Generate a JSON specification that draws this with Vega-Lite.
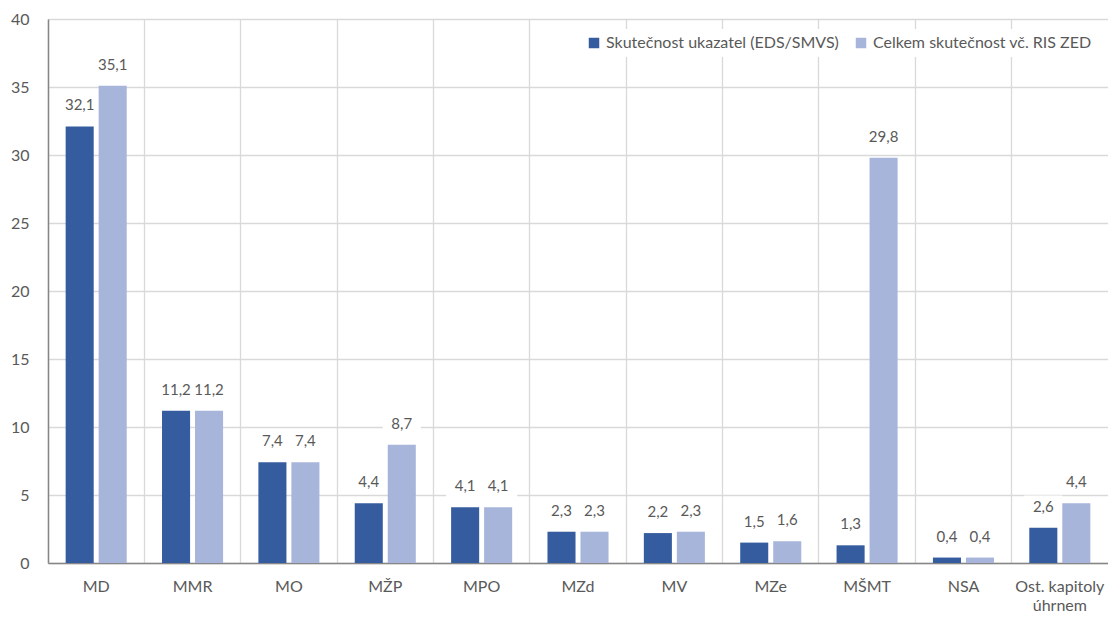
{
  "$schema": "https://vega.github.io/schema/vega-lite/v6.json",
  "width": 1060,
  "height": 544,
  "autosize": {"type": "none"},
  "padding": {"left": 48, "top": 19, "right": 0, "bottom": 54},
  "background": "white",
  "config": {
    "locale": {"number": {"decimal": ",", "thousands": " ", "grouping": [3], "currency": ["", " Kč"]}},
    "font": "Lato",
    "view": {"stroke": null}
  },
  "data": {
    "values": [
      {"kat": "MD", "serie": "Skutečnost ukazatel (EDS/SMVS)", "hodnota": 32.1},
      {"kat": "MD", "serie": "Celkem skutečnost vč. RIS ZED", "hodnota": 35.1},
      {"kat": "MMR", "serie": "Skutečnost ukazatel (EDS/SMVS)", "hodnota": 11.2},
      {"kat": "MMR", "serie": "Celkem skutečnost vč. RIS ZED", "hodnota": 11.2},
      {"kat": "MO", "serie": "Skutečnost ukazatel (EDS/SMVS)", "hodnota": 7.4},
      {"kat": "MO", "serie": "Celkem skutečnost vč. RIS ZED", "hodnota": 7.4},
      {"kat": "MŽP", "serie": "Skutečnost ukazatel (EDS/SMVS)", "hodnota": 4.4},
      {"kat": "MŽP", "serie": "Celkem skutečnost vč. RIS ZED", "hodnota": 8.7},
      {"kat": "MPO", "serie": "Skutečnost ukazatel (EDS/SMVS)", "hodnota": 4.1},
      {"kat": "MPO", "serie": "Celkem skutečnost vč. RIS ZED", "hodnota": 4.1},
      {"kat": "MZd", "serie": "Skutečnost ukazatel (EDS/SMVS)", "hodnota": 2.3},
      {"kat": "MZd", "serie": "Celkem skutečnost vč. RIS ZED", "hodnota": 2.3},
      {"kat": "MV", "serie": "Skutečnost ukazatel (EDS/SMVS)", "hodnota": 2.2},
      {"kat": "MV", "serie": "Celkem skutečnost vč. RIS ZED", "hodnota": 2.3},
      {"kat": "MZe", "serie": "Skutečnost ukazatel (EDS/SMVS)", "hodnota": 1.5},
      {"kat": "MZe", "serie": "Celkem skutečnost vč. RIS ZED", "hodnota": 1.6},
      {"kat": "MŠMT", "serie": "Skutečnost ukazatel (EDS/SMVS)", "hodnota": 1.3},
      {"kat": "MŠMT", "serie": "Celkem skutečnost vč. RIS ZED", "hodnota": 29.8},
      {"kat": "NSA", "serie": "Skutečnost ukazatel (EDS/SMVS)", "hodnota": 0.4},
      {"kat": "NSA", "serie": "Celkem skutečnost vč. RIS ZED", "hodnota": 0.4},
      {"kat": "Ost. kapitoly úhrnem", "serie": "Skutečnost ukazatel (EDS/SMVS)", "hodnota": 2.6},
      {"kat": "Ost. kapitoly úhrnem", "serie": "Celkem skutečnost vč. RIS ZED", "hodnota": 4.4}
    ]
  },
  "encoding": {
    "x": {
      "field": "kat",
      "type": "nominal",
      "sort": null,
      "scale": {"paddingInner": 0, "paddingOuter": 0},
      "axis": {
        "title": null,
        "labelAngle": 0,
        "domain": true,
        "domainColor": "#868686",
        "domainWidth": 1.5,
        "ticks": false,
        "grid": true,
        "gridColor": "#d9d9d9",
        "gridWidth": 1.3,
        "bandPosition": 0,
        "labelFontSize": 16,
        "labelColor": "#595959",
        "labelPadding": 15,
        "labelLineHeight": 19,
        "labelExpr": "datum.label == 'Ost. kapitoly úhrnem' ? ['Ost. kapitoly', 'úhrnem'] : datum.label"
      }
    },
    "xOffset": {
      "field": "serie",
      "type": "nominal",
      "sort": ["Skutečnost ukazatel (EDS/SMVS)", "Celkem skutečnost vč. RIS ZED"],
      "scale": {"paddingInner": 0.15, "paddingOuter": 0.535}
    },
    "y": {
      "field": "hodnota",
      "type": "quantitative",
      "scale": {"domain": [0, 40], "nice": false},
      "axis": {
        "title": null,
        "values": [0, 5, 10, 15, 20, 25, 30, 35, 40],
        "domain": true,
        "domainColor": "#868686",
        "domainWidth": 1.5,
        "ticks": false,
        "grid": true,
        "gridColor": "#d9d9d9",
        "gridWidth": 1.3,
        "labelFontSize": 16,
        "labelColor": "#595959",
        "labelPadding": 19,
        "format": "d"
      }
    }
  },
  "layer": [
    {
      "mark": {
        "type": "point",
        "shape": "M-1,-0.58L1,-0.58L1,0.58L-1,0.58Z",
        "size": 1444,
        "filled": true,
        "color": "white",
        "opacity": 1,
        "strokeWidth": 0,
        "yOffset": -21
      }
    },
    {
      "mark": {"type": "bar"},
      "encoding": {
        "color": {
          "field": "serie",
          "type": "nominal",
          "sort": ["Skutečnost ukazatel (EDS/SMVS)", "Celkem skutečnost vč. RIS ZED"],
          "scale": {"range": ["#355C9F", "#A7B5DA"]},
          "legend": {
            "title": null,
            "orient": "top-right",
            "direction": "horizontal",
            "fillColor": "white",
            "symbolType": "square",
            "symbolSize": 110,
            "symbolStrokeWidth": 0,
            "labelFontSize": 16,
            "labelColor": "#595959",
            "columnPadding": 14,
            "offset": 10,
            "padding": 6,
            "labelLimit": 400
          }
        }
      }
    },
    {
      "mark": {"type": "text", "yOffset": -21, "fontSize": 15, "color": "#595959", "baseline": "middle"},
      "encoding": {"text": {"field": "hodnota", "type": "quantitative", "format": ".1f"}}
    }
  ]
}
